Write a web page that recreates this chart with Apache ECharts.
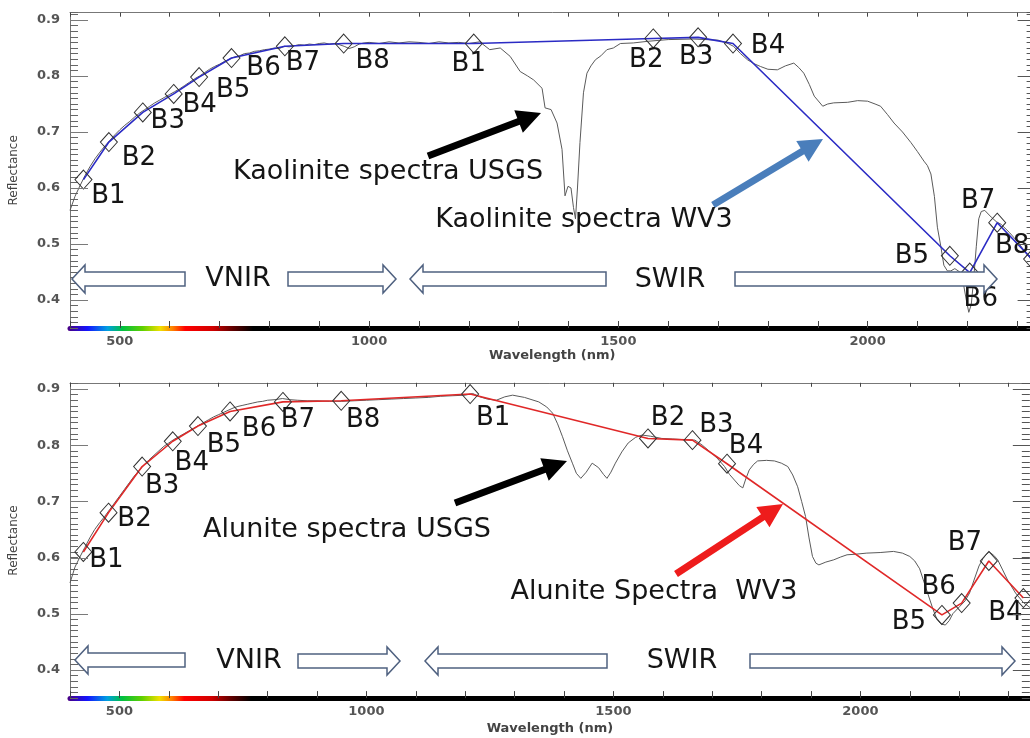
<!DOCTYPE html>
<html><head><meta charset="utf-8">
<script src="https://cdn.jsdelivr.net/npm/echarts@6/dist/echarts.min.js"></script>
<style>html,body{margin:0;padding:0;overflow:hidden;background:#fff}#c{width:1040px;height:738px}</style>
</head><body><div id="c"></div><script>
// ---------------- data ----------------
const bandCenters = [427,478,546,608,659,724,831,949,1210,1570,1660,1730,2165,2205,2260,2330];
const bandNamesKaol = ['B1','B2','B3','B4','B5','B6','B7','B8','B1','B2','B3','B4','B5','B6','B7','B8'];
const bandNamesAlu  = ['B1','B2','B3','B4','B5','B6','B7','B8','B1','B2','B3','B4','B5','B6','B7','B4'];
const kaolWV3 = [0.615,0.682,0.735,0.768,0.798,0.832,0.853,0.858,0.858,0.867,0.869,0.858,0.479,0.449,0.538,0.473];
const aluWV3  = [0.610,0.680,0.762,0.807,0.834,0.860,0.877,0.879,0.891,0.812,0.809,0.767,0.498,0.519,0.594,0.528];
const kaolUSGS = [[400,.560],[410,.585],[420,.604],[430,.622],[440,.638],[450,.652],[460,.664],[470,.675],[480,.685],[490,.695],[500,.704],[510,.712],[520,.719],[530,.727],[540,.734],[550,.740],[560,.746],[570,.752],[580,.757],[590,.762],[600,.767],[610,.772],[620,.777],[630,.783],[640,.789],[650,.795],[660,.800],[670,.806],[680,.812],[690,.817],[700,.821],[710,.826],[720,.830],[730,.834],[740,.836],[750,.840],[760,.841],[770,.844],[780,.845],[790,.847],[800,.848],[810,.850],[820,.849],[830,.853],[840,.852],[850,.854],[860,.856],[870,.855],[880,.857],[890,.856],[900,.858],[910,.859],[920,.857],[930,.858],[940,.856],[950,.853],[960,.849],[970,.852],[980,.857],[990,.859],[1000,.860],[1020,.858],[1040,.861],[1060,.859],[1080,.861],[1100,.860],[1120,.858],[1140,.861],[1160,.859],[1180,.860],[1200,.858],[1222,.861],[1242,.847],[1263,.850],[1283,.835],[1303,.808],[1318,.800],[1330,.793],[1347,.778],[1353,.743],[1365,.740],[1377,.716],[1387,.669],[1393,.586],[1399,.603],[1405,.600],[1410,.565],[1414,.545],[1418,.600],[1423,.681],[1430,.770],[1437,.805],[1445,.818],[1454,.829],[1465,.836],[1477,.847],[1490,.850],[1504,.858],[1530,.859],[1560,.862],[1600,.865],[1650,.866],[1700,.864],[1720,.858],[1731,.853],[1745,.840],[1759,.829],[1772,.822],[1785,.817],[1800,.812],[1819,.811],[1835,.818],[1852,.823],[1862,.815],[1872,.805],[1883,.785],[1893,.764],[1910,.746],[1920,.750],[1932,.752],[1960,.753],[1980,.756],[2000,.755],[2015,.750],[2026,.746],[2040,.731],[2053,.716],[2070,.700],[2087,.681],[2100,.665],[2113,.648],[2120,.640],[2127,.625],[2134,.585],[2140,.530],[2147,.495],[2153,.462],[2160,.452],[2167,.452],[2175,.456],[2185,.450],[2192,.430],[2198,.400],[2203,.378],[2208,.392],[2213,.440],[2218,.495],[2223,.545],[2228,.558],[2235,.560],[2248,.548],[2258,.540],[2268,.535],[2285,.520],[2302,.503],[2315,.487],[2330,.470],[2340,.462]];
const aluUSGS = [[400,.555],[410,.583],[420,.601],[430,.618],[440,.635],[450,.650],[460,.662],[470,.673],[480,.685],[490,.697],[500,.709],[510,.721],[520,.733],[530,.745],[540,.755],[550,.765],[560,.774],[570,.782],[580,.790],[590,.798],[600,.804],[610,.810],[620,.815],[630,.820],[640,.825],[650,.830],[660,.835],[670,.840],[680,.845],[690,.850],[700,.854],[710,.858],[720,.862],[730,.866],[740,.869],[750,.871],[760,.873],[770,.875],[780,.877],[790,.878],[800,.880],[815,.881],[830,.883],[845,.881],[860,.880],[880,.879],[900,.879],[925,.878],[950,.878],[975,.879],[1000,.880],[1025,.881],[1050,.882],[1075,.883],[1100,.884],[1125,.885],[1150,.887],[1175,.888],[1200,.889],[1215,.892],[1230,.886],[1245,.882],[1263,.880],[1280,.886],[1296,.889],[1320,.885],[1349,.877],[1365,.868],[1377,.857],[1387,.838],[1397,.815],[1407,.790],[1417,.768],[1425,.750],[1434,.741],[1445,.752],[1457,.768],[1470,.760],[1480,.748],[1487,.741],[1495,.752],[1504,.768],[1517,.788],[1530,.804],[1545,.814],[1558,.818],[1575,.816],[1598,.812],[1620,.811],[1640,.810],[1665,.809],[1680,.800],[1692,.791],[1710,.777],[1725,.762],[1735,.748],[1745,.738],[1755,.728],[1762,.724],[1768,.740],[1775,.756],[1784,.766],[1792,.772],[1810,.773],[1826,.772],[1840,.768],[1853,.762],[1863,.747],[1873,.726],[1881,.700],[1889,.673],[1896,.635],[1903,.602],[1910,.590],[1916,.587],[1930,.592],[1946,.596],[1960,.601],[1973,.605],[1990,.606],[2013,.608],[2040,.609],[2067,.611],[2085,.608],[2100,.602],[2110,.594],[2120,.580],[2133,.545],[2147,.508],[2155,.490],[2163,.482],[2172,.480],[2180,.488],[2187,.500],[2201,.513],[2212,.523],[2221,.537],[2230,.560],[2240,.585],[2248,.598],[2255,.606],[2261,.610],[2270,.604],[2278,.596],[2288,.578],[2298,.560],[2314,.537],[2330,.520],[2345,.510]];
const xTickLabels = [500,1000,1500,2000];
const yTickValues = [0.4,0.5,0.6,0.7,0.8,0.9];
// visible-spectrum colour bar along the wavelength axis
const spectrumNm     = [400,440,480,510,550,585,610,635,690,730,770];
const spectrumColors = ['#4b0082','#1414ff','#00a0e0','#00c040','#60d000','#f0e000','#ff8000','#ff0000','#d00000','#600000','#000000'];

// ---------------- layout (not data) ----------------
const FONT = 'DejaVu Sans';
const labelOffsetsKaol = [[25,17],[30,16],[25,9],[26,11],[34,13],[32,10],[18,17],[29,18],[-5,21],[-7,22],[-2,20],[35,3],[-38,0],[11,27],[-19,-21],[-20,-13]];
const labelOffsetsAlu  = [[23,8],[26,7],[20,20],[19,22],[26,19],[29,18],[15,18],[22,19],[23,24],[20,-20],[24,-15],[19,-17],[-33,7],[-23,-16],[-24,-18],[-18,15]];
const X_MIN = 400, X_MAX_TOP = 2335, X_MAX_BOT = 2343;
const Y_MIN = 0.35, Y_MAX_TOP = 0.913, Y_MAX_BOT = 0.911;
const isTenth = v => Math.abs(v*10 - Math.round(v*10)) < 1e-6;

function spectrumGradient(xmax){
  const stops = spectrumNm.map((nm,i)=>({offset:(nm-X_MIN)/(xmax-X_MIN), color:spectrumColors[i]}));
  stops.push({offset:1,color:'#000'});
  return new echarts.graphic.LinearGradient(0,0,1,0,stops);
}
const tickLabelStyle = {fontFamily:FONT,fontWeight:'bold',fontSize:13,color:'#555'};

function xAxes(grid, xmax){
  return [
    {gridIndex:grid,type:'value',position:'bottom',min:X_MIN,max:xmax,interval:100,
     axisLine:{show:true,onZero:false,lineStyle:{color:spectrumGradient(xmax),width:5}},
     axisTick:{show:true,inside:true,length:7,lineStyle:{color:'#444',width:1}},
     axisLabel:Object.assign({margin:7,formatter:v=>xTickLabels.includes(v)?String(v):''},tickLabelStyle),
     splitLine:{show:false},
     name:'Wavelength (nm)',nameLocation:'middle',nameGap:grid===0?21:24,
     nameTextStyle:{fontFamily:FONT,fontWeight:'bold',fontSize:13,color:'#444'}},
    {gridIndex:grid,type:'value',position:'top',min:X_MIN,max:xmax,interval:100,
     axisLine:{show:true,onZero:false,lineStyle:{color:'#777',width:1}},
     axisTick:{show:true,inside:true,length:4,lineStyle:{color:'#444'}},
     axisLabel:{show:false},splitLine:{show:false}}
  ];
}
function yAxes(grid, ymax){
  const base = {gridIndex:grid,type:'value',min:Y_MIN,max:ymax,splitLine:{show:false}};
  return [
    Object.assign({},base,{position:'left',interval:0.01,
      axisLine:{show:true,lineStyle:{color:'#777',width:1}},
      axisTick:{show:true,inside:true,length:8,lineStyle:{color:'#666'}},
      axisLabel:Object.assign({margin:10,formatter:v=>isTenth(v)?v.toFixed(1):''},tickLabelStyle),
      name:'Reflectance',nameLocation:'middle',nameGap:50,
      nameTextStyle:{fontFamily:FONT,fontSize:12,color:'#444'}}),
    Object.assign({},base,{position:'right',interval:0.01,
      axisLine:{show:true,lineStyle:{color:'#777',width:1}},
      axisTick:{show:true,inside:true,length:8,lineStyle:{color:'#555'}},axisLabel:{show:false}})
  ];
}
function wv3Series(xi, yi, values, names, offsets, color){
  return {type:'line',xAxisIndex:xi,yAxisIndex:yi,z:5,
    data: bandCenters.map((nm,i)=>({value:[nm,values[i]],label:{offset:offsets[i]}})),
    lineStyle:{color:color,width:1.6},
    symbol:'diamond',symbolSize:[17,19],
    itemStyle:{color:'rgba(255,255,255,0)',borderColor:'#333',borderWidth:1},
    label:{show:true,position:'inside',align:'center',verticalAlign:'middle',
      formatter:p=>names[p.dataIndex],fontFamily:FONT,fontSize:26,color:'#151515'},
    emphasis:{disabled:true}};
}
function usgsSeries(xi, yi, data){
  return {type:'line',xAxisIndex:xi,yAxisIndex:yi,z:3,data:data,symbol:'none',
    lineStyle:{color:'#5a5a5a',width:1},emphasis:{disabled:true}};
}

// ---------------- annotations ----------------
function arrowPoly(x1,y1,x2,y2,shaft,headLen,headHalf){
  const dx=x2-x1, dy=y2-y1, L=Math.hypot(dx,dy), ux=dx/L, uy=dy/L, nx=-uy, ny=ux;
  const bx=x2-ux*headLen, by=y2-uy*headLen, s=shaft/2;
  return [[x1+nx*s,y1+ny*s],[bx+nx*s,by+ny*s],[bx+nx*headHalf,by+ny*headHalf],[x2,y2],
          [bx-nx*headHalf,by-ny*headHalf],[bx-nx*s,by-ny*s],[x1-nx*s,y1-ny*s]];
}
const solidArrows = [
  {from:[428,156],to:[541,113],color:'#000'},
  {from:[713,205],to:[823,139],color:'#4a7ebb'},
  {from:[455,503],to:[567,461],color:'#000'},
  {from:[676,574],to:[783,504],color:'#ee1c1c'}
];
const outlineArrows = [ // [tailX, tipX, centerY]
  [185,72,279],[288,396,279],[606,410,279],[735,997,279],
  [185,75,660],[298,400,661],[607,425,661],[750,1015,661]
];
const texts = [
  ['Kaolinite spectra USGS',388,172],['Kaolinite spectra WV3',584,220],['VNIR',238,279],['SWIR',670,280],
  ['Alunite spectra USGS',347,530],['Alunite Spectra  WV3',654,592],['VNIR',249,661],['SWIR',682,661]
];
const graphics = [];
solidArrows.forEach(a=>graphics.push({type:'polygon',z:100,
  shape:{points:arrowPoly(a.from[0],a.from[1],a.to[0],a.to[1],7,24,12)},style:{fill:a.color}}));
outlineArrows.forEach(([t,p,y])=>graphics.push({type:'polygon',z:100,
  shape:{points:arrowPoly(t,y,p,y,14,13,14)},style:{fill:'#fff',stroke:'#4f6180',lineWidth:1.5}}));
texts.forEach(([s,x,y])=>graphics.push({type:'text',z:101,x:x,y:y,
  style:{text:s,font:'27px "'+FONT+'"',fill:'#151515',align:'center',verticalAlign:'middle'}}));

const chart = echarts.init(document.getElementById('c'));
chart.setOption({
  animation:false,
  backgroundColor:'#fff',
  grid:[{left:70,top:12.7,width:(X_MAX_TOP-X_MIN)*0.4985,height:315.3},
        {left:70,top:382.8,width:(X_MAX_BOT-X_MIN)*0.494,height:315.3}],
  xAxis:[].concat(xAxes(0,X_MAX_TOP),xAxes(1,X_MAX_BOT)),
  yAxis:[].concat(yAxes(0,Y_MAX_TOP),yAxes(1,Y_MAX_BOT)),
  series:[
    usgsSeries(0,0,kaolUSGS),
    wv3Series(0,0,kaolWV3,bandNamesKaol,labelOffsetsKaol,'#2b2bc4'),
    usgsSeries(2,2,aluUSGS),
    wv3Series(2,2,aluWV3,bandNamesAlu,labelOffsetsAlu,'#e02828')
  ]
});

// Long ticks at the labelled reflectance values, placed through the axes' own scales
function majorTicks(xi, yi, xmax){
  const out = [];
  const xL = chart.convertToPixel({xAxisIndex:xi}, X_MIN);
  const xR = chart.convertToPixel({xAxisIndex:xi}, xmax);
  yTickValues.forEach(v=>{
    const y = Math.round(chart.convertToPixel({yAxisIndex:yi}, v))+0.5;
    out.push({type:'line',z:50,silent:true,shape:{x1:xL,y1:y,x2:xL+18,y2:y},style:{stroke:'#7a7a7a',lineWidth:1}});
    out.push({type:'line',z:50,silent:true,shape:{x1:xR,y1:y,x2:xR-17,y2:y},style:{stroke:'#555',lineWidth:1}});
  });
  return out;
}
chart.setOption({graphic: graphics.concat(majorTicks(0,0,X_MAX_TOP)).concat(majorTicks(2,2,X_MAX_BOT))});
</script></body></html>
